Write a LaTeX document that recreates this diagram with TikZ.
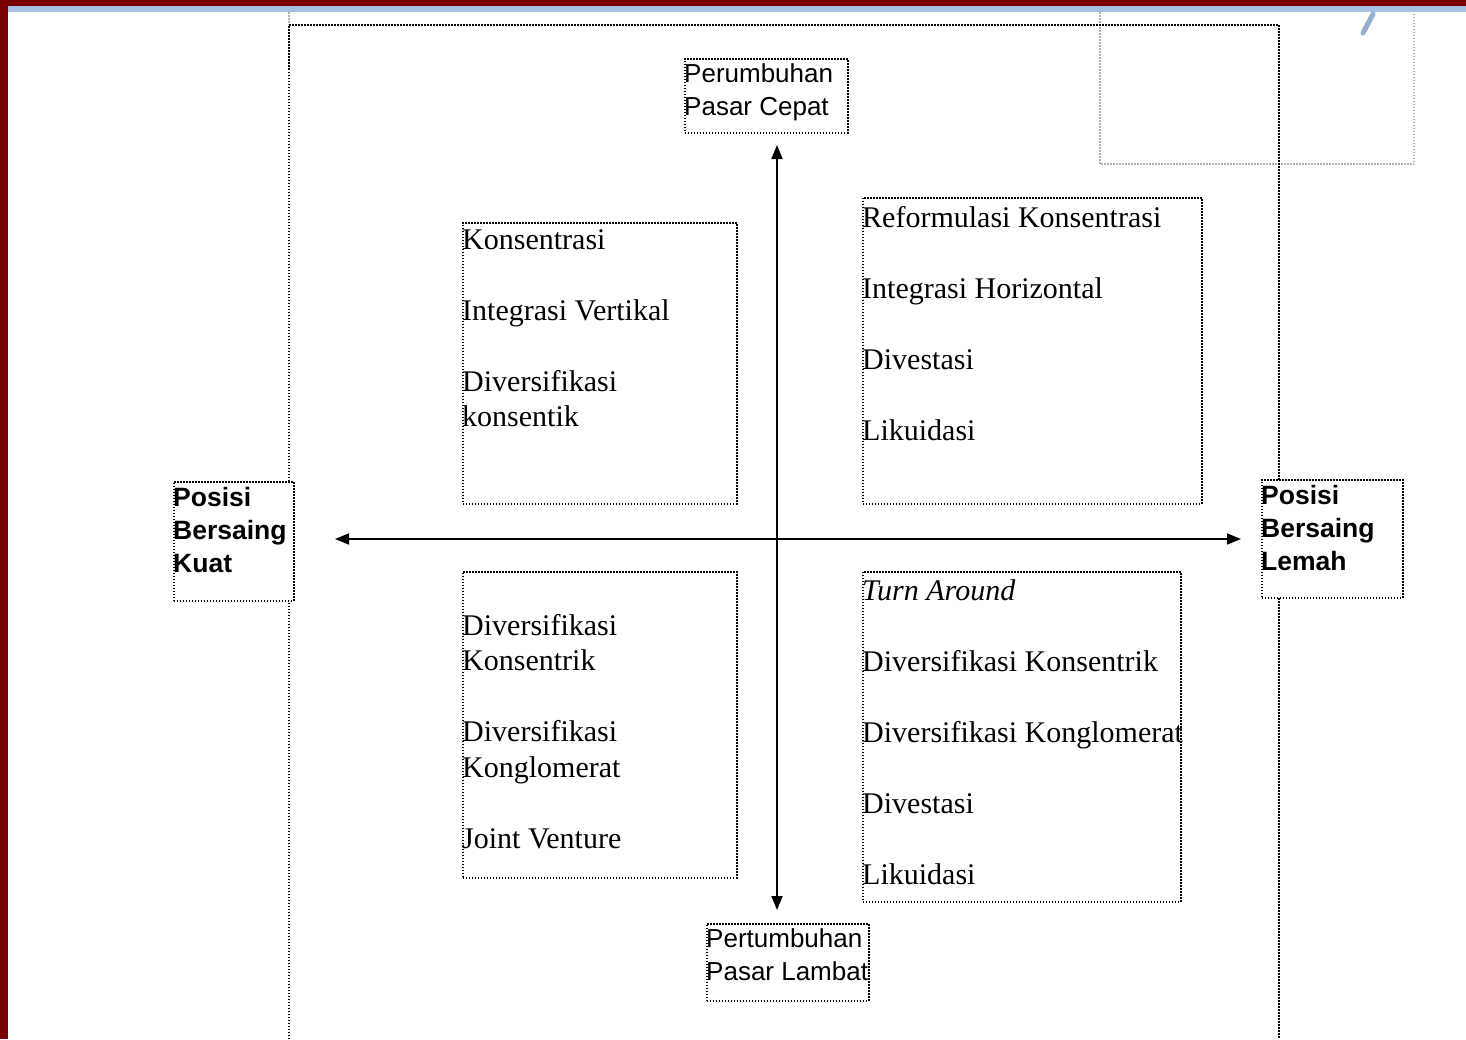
\documentclass[tikz,border=0pt]{standalone}
\usepackage{fontspec}
\setmainfont{Liberation Serif}
\setsansfont{Liberation Sans}
\usetikzlibrary{arrows.meta}
\definecolor{merahtua}{RGB}{120,0,0}
\definecolor{birupita}{RGB}{166,194,227}
\definecolor{birugores}{RGB}{150,175,205}

\begin{document}
\begin{tikzpicture}[
  x=1pt, y=-1pt,
  bingkai/.style={draw, dash pattern=on 1.5pt off 1.5pt, line width=1.5pt},
  qbox/.style={bingkai, fill=white, inner sep=0pt, anchor=north west},
  isi/.style={anchor=north west, inner sep=0pt, align=left, font=\fontsize{30}{35.5}\selectfont},
  lbl/.style={anchor=north west, inner sep=0pt, align=left, font=\sffamily\fontsize{26}{33}\selectfont},
  tebal/.style={lbl, font=\sffamily\bfseries\fontsize{26.5}{33}\selectfont},
  sumbu/.style={{Triangle[length=14pt,width=11pt]}-{Triangle[length=14pt,width=11pt]}, line width=1.7pt}
]
\useasboundingbox (0,0) rectangle (1466,1039);
\fill[white] (0,0) rectangle (1466,1039);

% window edges
\fill[merahtua] (0,0) rectangle (8,1039);
\fill[merahtua] (0,0) rectangle (1466,6);
\fill[birupita] (8,6) rectangle (1466,12);
\draw[line width=5pt, birugores, line cap=round] (1363,33) -- (1373,14);

% page frames
\draw[bingkai, gray!60] (1100,12) -- (1100,164) -- (1414,164) -- (1414,12);
\draw[bingkai, gray!60] (289,12) -- (289,25);
\draw[bingkai] (289,1039) -- (289,25) -- (1279,25) -- (1279,1039);

% axes
\coordinate (utara) at (777,145);
\coordinate (selatan) at (777,910);
\coordinate (barat) at (335,539);
\coordinate (timur) at (1241,539);
\draw[sumbu] (utara) -- (selatan);
\draw[sumbu] (barat) -- (timur);

% quadrants
\node[qbox, minimum width=274pt, minimum height=281pt] (kuadran1) at (462,222) {};
\node[isi] (teks1) at ([xshift=0pt, yshift=-7pt]kuadran1.north west)
  {Konsentrasi\\[35.5pt]Integrasi Vertikal\\[35.5pt]Diversifikasi\\konsentik};

\node[qbox, minimum width=339pt, minimum height=306pt] (kuadran2) at (862,197) {};
\node[isi] (teks2) at ([xshift=0pt, yshift=-9pt]kuadran2.north west)
  {Reformulasi Konsentrasi\\[35.5pt]Integrasi Horizontal\\[35.5pt]Divestasi\\[35.5pt]Likuidasi};

\node[qbox, minimum width=274pt, minimum height=306pt] (kuadran3) at (462,571) {};
\node[isi] (teks3) at ([xshift=0pt, yshift=-43pt]kuadran3.north west)
  {Diversifikasi\\Konsentrik\\[35.5pt]Diversifikasi\\Konglomerat\\[35.5pt]Joint Venture};

\node[qbox, minimum width=318pt, minimum height=330pt] (kuadran4) at (862,571) {};
\node[isi] (teks4) at ([xshift=0pt, yshift=-8pt]kuadran4.north west)
  {\textit{Turn Around}\\[35.5pt]Diversifikasi Konsentrik\\[35.5pt]Diversifikasi Konglomerat\\[35.5pt]Divestasi\\[35.5pt]Likuidasi};

% axis labels
\node[qbox, minimum width=163pt, minimum height=74pt] (cepat) at (684,58) {};
\node[lbl] (tekscepat) at ([xshift=0pt, yshift=-5pt]cepat.north west) {Perumbuhan\\Pasar Cepat};

\node[qbox, minimum width=162pt, minimum height=77pt] (lambat) at (706,923) {};
\node[lbl] (tekslambat) at ([xshift=0pt, yshift=-5pt]lambat.north west) {Pertumbuhan\\Pasar Lambat};

\node[qbox, minimum width=120pt, minimum height=119pt] (kuat) at (173,481) {};
\node[tebal] (tekskuat) at ([xshift=0pt, yshift=-6pt]kuat.north west) {Posisi\\Bersaing\\Kuat};

\node[qbox, minimum width=141pt, minimum height=118pt] (lemah) at (1261,479) {};
\node[tebal] (tekslemah) at ([xshift=0pt, yshift=-6pt]lemah.north west) {Posisi\\Bersaing\\Lemah};
\end{tikzpicture}
\end{document}
